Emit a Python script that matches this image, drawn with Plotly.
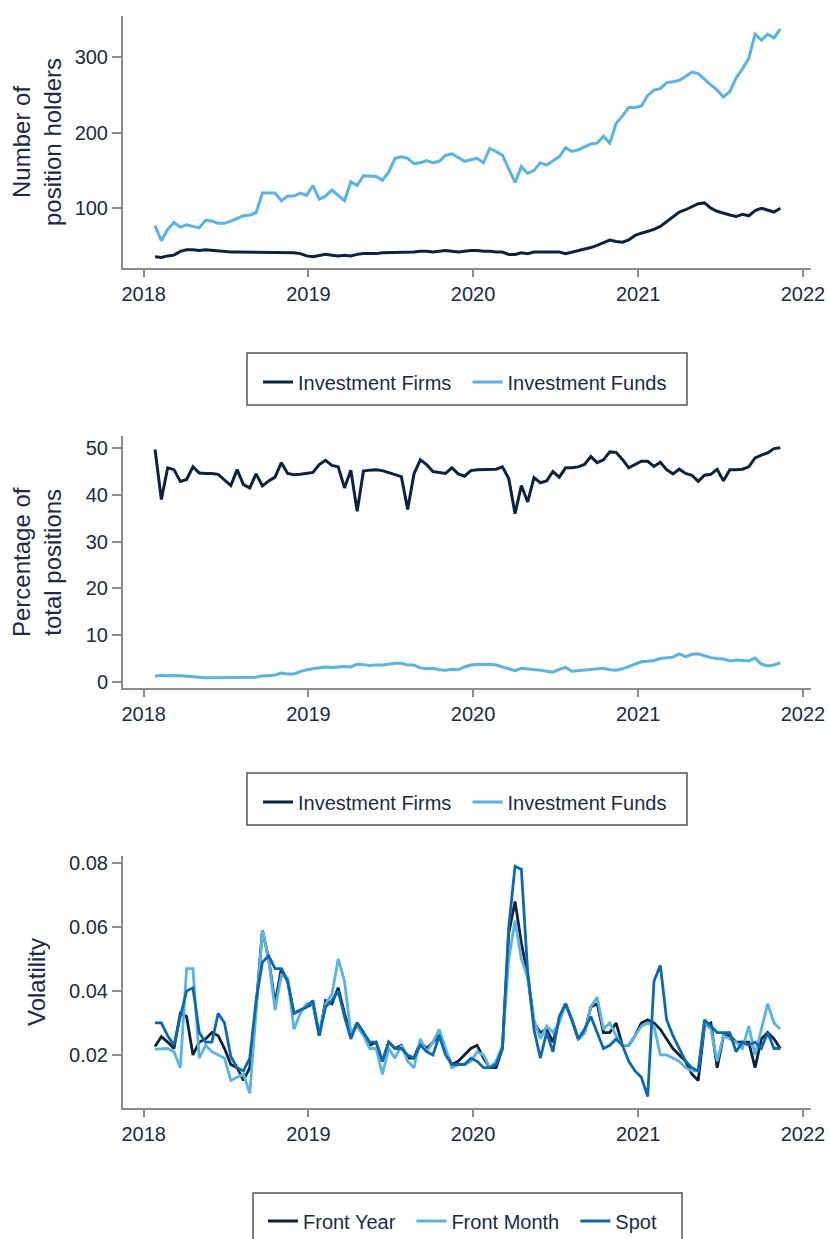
import pandas as pd
import plotly.graph_objects as go

# ---------------- data (biweekly observations, late Jan 2018 - mid Nov 2021) ----------------
dates = pd.date_range("2018-01-26", periods=100, freq="14D")

holders_firms = [36, 35, 37, 38, 43, 45, 45, 44, 45, 44, 43, 42, 42, 42, 42, 41, 41, 42, 42, 41,
                 42, 42, 41, 40, 37, 36, 37, 39, 38, 37, 38, 37, 39, 40, 40, 40, 41, 41, 41, 42,
                 42, 42, 43, 43, 42, 43, 44, 43, 42, 43, 44, 44, 43, 43, 42, 42, 39, 39, 41, 40,
                 42, 42, 42, 41, 42, 40, 42, 43, 45, 48, 51, 54, 58, 56, 55, 58, 64, 67, 69, 72,
                 76, 82, 88, 95, 98, 102, 106, 107, 100, 96, 93, 91, 89, 92, 90, 97, 100, 98, 95, 100]

holders_funds = [77, 57, 72, 81, 75, 78, 76, 74, 84, 83, 80, 80, 83, 87, 90, 91, 94, 120, 120, 120,
                 110, 116, 116, 120, 117, 130, 112, 116, 124, 117, 110, 135, 130, 143, 142, 142, 137, 148, 166, 168,
                 166, 159, 160, 163, 160, 162, 170, 172, 167, 162, 164, 166, 160, 179, 175, 170, 152, 134, 155, 146,
                 150, 160, 157, 162, 168, 180, 175, 177, 181, 185, 186, 195, 186, 212, 222, 233, 233, 235, 249, 256,
                 258, 266, 267, 269, 274, 280, 278, 270, 263, 256, 247, 254, 272, 284, 298, 330, 322, 330, 325, 337]

share_firms = [49.7, 39.0, 45.8, 45.4, 42.9, 43.3, 46.0, 44.7, 44.6, 44.6, 44.4, 43.3, 42.0, 45.4, 42.2, 41.5, 44.5, 41.9, 43.0, 43.8,
               46.9, 44.6, 44.3, 44.4, 44.6, 44.8, 46.5, 47.4, 46.3, 46.0, 41.5, 45.3, 36.5, 45.1, 45.3, 45.4, 45.2, 44.8, 44.3, 43.9,
               36.9, 44.5, 47.5, 46.5, 45.0, 44.8, 44.6, 45.8, 44.5, 44.0, 45.2, 45.4, 45.4, 45.4, 45.5, 46.0, 43.5, 36.0, 42.0, 38.5,
               43.7, 42.6, 43.0, 45.0, 43.8, 45.8, 45.8, 46.0, 46.5, 48.2, 46.9, 47.5, 49.2, 49.1, 47.6, 45.8, 46.5, 47.2, 47.2, 46.1,
               47.0, 45.4, 44.5, 45.5, 44.6, 44.2, 42.9, 44.2, 44.4, 45.5, 43.0, 45.4, 45.4, 45.5, 46.0, 47.9, 48.5, 49.0, 49.9, 50.1]

share_funds = [1.2, 1.4, 1.3, 1.4, 1.3, 1.2, 1.0, 0.9, 0.9, 0.9, 0.9, 0.9, 1.0, 0.9, 0.9, 0.9, 1.0, 1.3, 1.3, 1.5,
               1.9, 1.7, 1.7, 2.2, 2.6, 2.8, 3.0, 3.2, 3.1, 3.2, 3.3, 3.2, 3.8, 3.7, 3.5, 3.6, 3.6, 3.8, 4.0, 4.0,
               3.6, 3.6, 3.0, 2.8, 2.9, 2.6, 2.5, 2.7, 2.6, 3.2, 3.6, 3.7, 3.7, 3.8, 3.6, 3.2, 2.8, 2.4, 2.9, 2.8,
               2.6, 2.5, 2.3, 2.1, 2.7, 3.1, 2.3, 2.4, 2.6, 2.7, 2.8, 2.9, 2.6, 2.5, 2.8, 3.3, 3.8, 4.3, 4.4, 4.6,
               5.0, 5.1, 5.3, 6.0, 5.4, 5.9, 6.0, 5.6, 5.2, 5.0, 4.9, 4.5, 4.7, 4.6, 4.5, 5.1, 3.8, 3.4, 3.6, 4.1]

vol_front_year = [0.0226, 0.0257, 0.024, 0.022, 0.033, 0.032, 0.020, 0.024, 0.025, 0.027,
                  0.026, 0.022, 0.017, 0.016, 0.012, 0.016, 0.035, 0.059, 0.050, 0.036,
                  0.047, 0.043, 0.033, 0.034, 0.035, 0.036, 0.026, 0.037, 0.036, 0.041,
                  0.033, 0.026, 0.030, 0.027, 0.023, 0.024, 0.018, 0.024, 0.022, 0.023,
                  0.019, 0.019, 0.024, 0.022, 0.024, 0.026, 0.021, 0.017, 0.018, 0.020,
                  0.022, 0.023, 0.019, 0.016, 0.016, 0.022, 0.058, 0.068, 0.055, 0.045,
                  0.030, 0.027, 0.028, 0.024, 0.031, 0.036, 0.031, 0.025, 0.027, 0.035,
                  0.036, 0.027, 0.027, 0.030, 0.023, 0.023, 0.026, 0.030, 0.031, 0.030,
                  0.028, 0.025, 0.022, 0.020, 0.018, 0.014, 0.012, 0.029, 0.030, 0.016,
                  0.026, 0.026, 0.024, 0.024, 0.024, 0.016, 0.025, 0.027, 0.025, 0.022]

vol_front_month = [0.0218, 0.022, 0.022, 0.021, 0.016, 0.047, 0.047, 0.019, 0.023, 0.021,
                   0.020, 0.019, 0.012, 0.013, 0.014, 0.008, 0.035, 0.059, 0.050, 0.034,
                   0.045, 0.044, 0.028, 0.033, 0.036, 0.036, 0.027, 0.036, 0.039, 0.050,
                   0.043, 0.027, 0.029, 0.026, 0.022, 0.022, 0.014, 0.022, 0.019, 0.023,
                   0.018, 0.016, 0.025, 0.021, 0.024, 0.028, 0.022, 0.016, 0.017, 0.017,
                   0.018, 0.021, 0.020, 0.016, 0.018, 0.023, 0.050, 0.062, 0.050, 0.044,
                   0.031, 0.025, 0.029, 0.027, 0.030, 0.036, 0.031, 0.025, 0.027, 0.035,
                   0.038, 0.028, 0.030, 0.026, 0.023, 0.023, 0.026, 0.029, 0.030, 0.029,
                   0.020, 0.020, 0.019, 0.018, 0.016, 0.015, 0.015, 0.030, 0.028, 0.018,
                   0.026, 0.025, 0.024, 0.022, 0.029, 0.020, 0.028, 0.036, 0.030, 0.028]

vol_spot = [0.030, 0.030, 0.026, 0.023, 0.032, 0.040, 0.041, 0.027, 0.024, 0.024,
            0.033, 0.030, 0.0195, 0.016, 0.015, 0.019, 0.037, 0.049, 0.051, 0.047,
            0.047, 0.043, 0.033, 0.034, 0.035, 0.037, 0.026, 0.035, 0.037, 0.040,
            0.032, 0.025, 0.030, 0.027, 0.024, 0.024, 0.018, 0.024, 0.022, 0.022,
            0.020, 0.019, 0.023, 0.021, 0.020, 0.026, 0.020, 0.017, 0.017, 0.017,
            0.019, 0.018, 0.016, 0.016, 0.017, 0.022, 0.060, 0.079, 0.078, 0.046,
            0.028, 0.019, 0.027, 0.021, 0.032, 0.036, 0.031, 0.025, 0.028, 0.032,
            0.027, 0.022, 0.023, 0.025, 0.023, 0.018, 0.015, 0.013, 0.007, 0.043,
            0.048, 0.031, 0.026, 0.022, 0.018, 0.016, 0.015, 0.031, 0.029, 0.027,
            0.027, 0.027, 0.021, 0.024, 0.023, 0.024, 0.022, 0.027, 0.022, 0.022]

year_ticks = ["2018-01-01", "2019-01-01", "2020-01-01", "2021-01-01", "2022-01-01"]
year_labels = ["2018", "2019", "2020", "2021", "2022"]

# ---------------- styling ----------------
NAVY = "#0c2340"
LIGHT = "#56b4e6"
SPOT = "#0b69b0"
TEXT = "#1b2a48"
AXIS = "#8c8c8c"
BOX = "#555555"
FONT = "Liberation Sans, Arial, sans-serif"
W, H = 829, 1239
PAD = "\u00a0\u00a0"   # extra spacing after legend labels

fig = go.Figure()

def add(x, y, name, color, ax, legend, width=3.0):
    fig.add_trace(go.Scatter(x=x, y=y, name=name + PAD, mode="lines",
                             line=dict(color=color, width=width),
                             xaxis="x" + ax, yaxis="y" + ax, legend=legend))

add(dates, holders_firms, "Investment Firms", NAVY, "", "legend")
add(dates, holders_funds, "Investment Funds", LIGHT, "", "legend")
add(dates, share_firms, "Investment Firms", NAVY, "2", "legend2")
add(dates, share_funds, "Investment Funds", LIGHT, "2", "legend2")
add(dates, vol_front_year, "Front Year", NAVY, "3", "legend3", 2.8)
add(dates, vol_front_month, "Front Month", LIGHT, "3", "legend3", 2.8)
add(dates, vol_spot, "Spot", SPOT, "3", "legend3", 2.8)

def px_x(p):
    return p / W

def px_y(p):
    return 1 - p / H

xdom = [px_x(123), px_x(811)]
panels = [(16, 268), (436, 688), (856, 1108)]

axis_common = dict(showline=True, linecolor=AXIS, linewidth=2, ticks="outside",
                   tickcolor=AXIS, tickwidth=1.5, showgrid=False, zeroline=False,
                   tickfont=dict(size=20, color=TEXT, family=FONT))

yranges = [[21, 354], [-1.3, 52.6], [0.0034, 0.0822]]
ytickvals = [[100, 200, 300], [0, 10, 20, 30, 40, 50], [0.02, 0.04, 0.06, 0.08]]
yticktext = [["100", "200", "300"], ["0", "10", "20", "30", "40", "50"],
             ["0.02", "0.04", "0.06", "0.08"]]

layout = dict(width=W, height=H, margin=dict(l=0, r=0, t=0, b=0, autoexpand=False),
              paper_bgcolor="white", plot_bgcolor="white",
              font=dict(family=FONT, color=TEXT))

for i, (top, bot) in enumerate(panels):
    suf = "" if i == 0 else str(i + 1)
    anchor = "y" + suf
    layout["xaxis" + suf] = dict(domain=xdom, anchor=anchor, type="date",
                                 range=["2017-11-16", "2022-01-19"],
                                 tickvals=year_ticks, ticktext=year_labels, ticklen=7,
                                 **axis_common)
    layout["yaxis" + suf] = dict(domain=[px_y(bot), px_y(top)], anchor="x" + suf,
                                 range=yranges[i], tickvals=ytickvals[i],
                                 ticktext=yticktext[i], ticklen=9, **axis_common)

legend_common = dict(orientation="h", xanchor="left", yanchor="middle",
                     borderwidth=0, bgcolor="rgba(0,0,0,0)",
                     font=dict(size=20, color=TEXT, family=FONT))
# legend text left edge minus symbol width, vertical centre of text row
layout["legend"] = dict(x=px_x(298 - 40), y=px_y(382), **legend_common)
layout["legend2"] = dict(x=px_x(298 - 40), y=px_y(802), **legend_common)
layout["legend3"] = dict(x=px_x(303 - 40), y=px_y(1221), **legend_common)

# legend frames
boxes = [(247, 353, 687, 405), (247, 773, 687, 825), (253, 1193, 682, 1260)]
layout["shapes"] = [dict(type="rect", xref="paper", yref="paper",
                         x0=px_x(x0), x1=px_x(x1), y0=px_y(y1), y1=px_y(y0),
                         line=dict(color=BOX, width=1.5), fillcolor="rgba(0,0,0,0)",
                         layer="below")
                    for (x0, y0, x1, y1) in boxes]

titles = [("Number of<br>position holders", 142), ("Percentage of<br>total positions", 562),
          ("Volatility", 982)]
layout["annotations"] = [dict(text=text, x=px_x(37), y=px_y(cy), xref="paper", yref="paper",
                              textangle=-90, showarrow=False, xanchor="center", yanchor="middle",
                              font=dict(size=24, color=TEXT, family=FONT))
                         for text, cy in titles]

fig.update_layout(**layout)
fig.write_html("out.html", config={"displayModeBar": False},
               post_script="document.body.style.margin='0';")
